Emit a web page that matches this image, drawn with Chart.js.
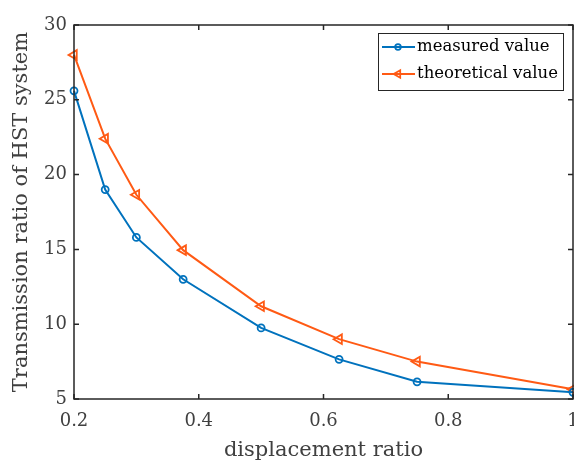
<!DOCTYPE html>
<html>
<head>
<meta charset="utf-8">
<script src="https://cdn.jsdelivr.net/npm/chart.js"></script>
<style>
  html, body { margin: 0; padding: 0; background: #fff; }
  #wrap { width: 574px; height: 463px; }
</style>
</head>
<body>
<div id="wrap"><canvas id="chart" width="574" height="463"></canvas></div>
<script>
  const ratio = [0.2, 0.25, 0.3, 0.375, 0.5, 0.625, 0.75, 1.0];
  const measured = [25.6, 19.0, 15.8, 13.0, 9.75, 7.65, 6.15, 5.45];
  const theoretical = [28.0, 22.4, 18.65, 14.95, 11.2, 9.0, 7.5, 5.65];
  const xTicks = [0.2, 0.4, 0.6, 0.8, 1];
  const xTickLabels = ['0.2', '0.4', '0.6', '0.8', '1'];
  const yTicks = [5, 10, 15, 20, 25, 30];
  const yTickLabels = ['5', '10', '15', '20', '25', '30'];

  const FONT = '"DejaVu Serif", "Liberation Serif", serif';
  const AXIS = '#262626';
  const TEXT = '#404040';
  const BLUE = '#0072bd';
  const ORANGE = '#ff5a14';

  const toPoints = (ys) => ratio.map((x, i) => ({ x: x, y: ys[i] }));

  // box, inward ticks on all four sides, x tick labels, legend inside the axes
  const matlabAxes = {
    id: 'matlabAxes',
    afterDatasetsDraw(chart) {
      const { ctx, chartArea: a, scales } = chart;
      ctx.save();
      ctx.strokeStyle = AXIS;
      ctx.lineWidth = 1.5;
      ctx.strokeRect(a.left, a.top, a.right - a.left, a.bottom - a.top);
      const len = 5;
      ctx.beginPath();
      xTicks.forEach(v => {
        const px = scales.x.getPixelForValue(v);
        ctx.moveTo(px, a.bottom); ctx.lineTo(px, a.bottom - len);
        ctx.moveTo(px, a.top); ctx.lineTo(px, a.top + len);
      });
      yTicks.forEach(v => {
        const py = scales.y.getPixelForValue(v);
        ctx.moveTo(a.left, py); ctx.lineTo(a.left + len, py);
        ctx.moveTo(a.right, py); ctx.lineTo(a.right - len, py);
      });
      ctx.stroke();

      // x tick labels (drawn here so the last one does not pad the plot)
      ctx.fillStyle = TEXT;
      ctx.font = '18px ' + FONT;
      ctx.textAlign = 'center';
      ctx.textBaseline = 'middle';
      xTicks.forEach((v, i) => {
        ctx.fillText(xTickLabels[i], scales.x.getPixelForValue(v), a.bottom + 22);
      });

      // legend
      const lx = 378, ly = 33, lw = 185, lh = 57;
      ctx.fillStyle = '#fff';
      ctx.fillRect(lx, ly, lw, lh);
      ctx.lineWidth = 1;
      ctx.strokeStyle = AXIS;
      ctx.strokeRect(lx + 0.5, ly + 0.5, lw, lh);
      chart.data.datasets.forEach((ds, i) => {
        const y = ly + 14 + i * 27;
        ctx.strokeStyle = ds.borderColor;
        ctx.lineWidth = 1.8;
        ctx.beginPath();
        ctx.moveTo(lx + 4, y); ctx.lineTo(lx + 37, y);
        ctx.stroke();
        ctx.fillStyle = 'rgba(0,0,0,0)';
        Chart.helpers.drawPoint(ctx, {
          pointStyle: ds.pointStyle,
          radius: ds.pointRadius * 0.8,
          rotation: ds.pointRotation || 0,
          borderWidth: 1.6
        }, lx + 20, y);
        ctx.fillStyle = '#000';
        ctx.font = '16.5px ' + FONT;
        ctx.textBaseline = 'middle';
        ctx.textAlign = 'left';
        ctx.fillText(ds.label, lx + 39, y);
      });
      ctx.restore();
    }
  };

  new Chart(document.getElementById('chart'), {
    type: 'line',
    data: {
      datasets: [{
        label: 'measured value',
        data: toPoints(measured),
        borderColor: BLUE,
        backgroundColor: 'transparent',
        borderWidth: 2,
        pointStyle: 'circle',
        pointRadius: 3.5,
        pointBorderWidth: 1.8,
        pointBackgroundColor: 'transparent',
        pointBorderColor: BLUE,
        tension: 0,
        clip: 8
      }, {
        label: 'theoretical value',
        data: toPoints(theoretical),
        borderColor: ORANGE,
        backgroundColor: 'transparent',
        borderWidth: 2,
        pointStyle: 'triangle',
        pointRotation: -90,
        pointRadius: 5.5,
        pointBorderWidth: 1.8,
        pointBackgroundColor: 'transparent',
        pointBorderColor: ORANGE,
        tension: 0,
        clip: 8
      }]
    },
    options: {
      responsive: false,
      animation: false,
      layout: { autoPadding: false, padding: { top: 25, right: 1, left: 0, bottom: 0 } },
      plugins: {
        legend: { display: false },
        tooltip: { enabled: false }
      },
      scales: {
        x: {
          type: 'linear',
          min: 0.2,
          max: 1,
          afterBuildTicks: (s) => { s.ticks = xTicks.map(v => ({ value: v })); },
          afterFit: (s) => { s.height = 64; },
          grid: { display: false, drawTicks: false },
          border: { display: false },
          ticks: { display: false },
          title: {
            display: true,
            text: 'displacement ratio',
            color: TEXT,
            font: { family: FONT, size: 21 },
            padding: { top: 0, bottom: 0 }
          }
        },
        y: {
          min: 5,
          max: 30,
          afterBuildTicks: (s) => { s.ticks = yTicks.map(v => ({ value: v })); },
          afterFit: (s) => { s.width = 74; },
          grid: { display: false, drawTicks: false },
          border: { display: false },
          ticks: {
            color: TEXT,
            font: { family: FONT, size: 18 },
            padding: 7,
            callback: (v, i) => yTickLabels[i]
          },
          title: {
            display: true,
            text: 'Transmission ratio of HST system',
            color: TEXT,
            font: { family: FONT, size: 21 },
            padding: { top: 9, bottom: 0 }
          }
        }
      }
    },
    plugins: [matlabAxes]
  });
</script>
</body>
</html>
